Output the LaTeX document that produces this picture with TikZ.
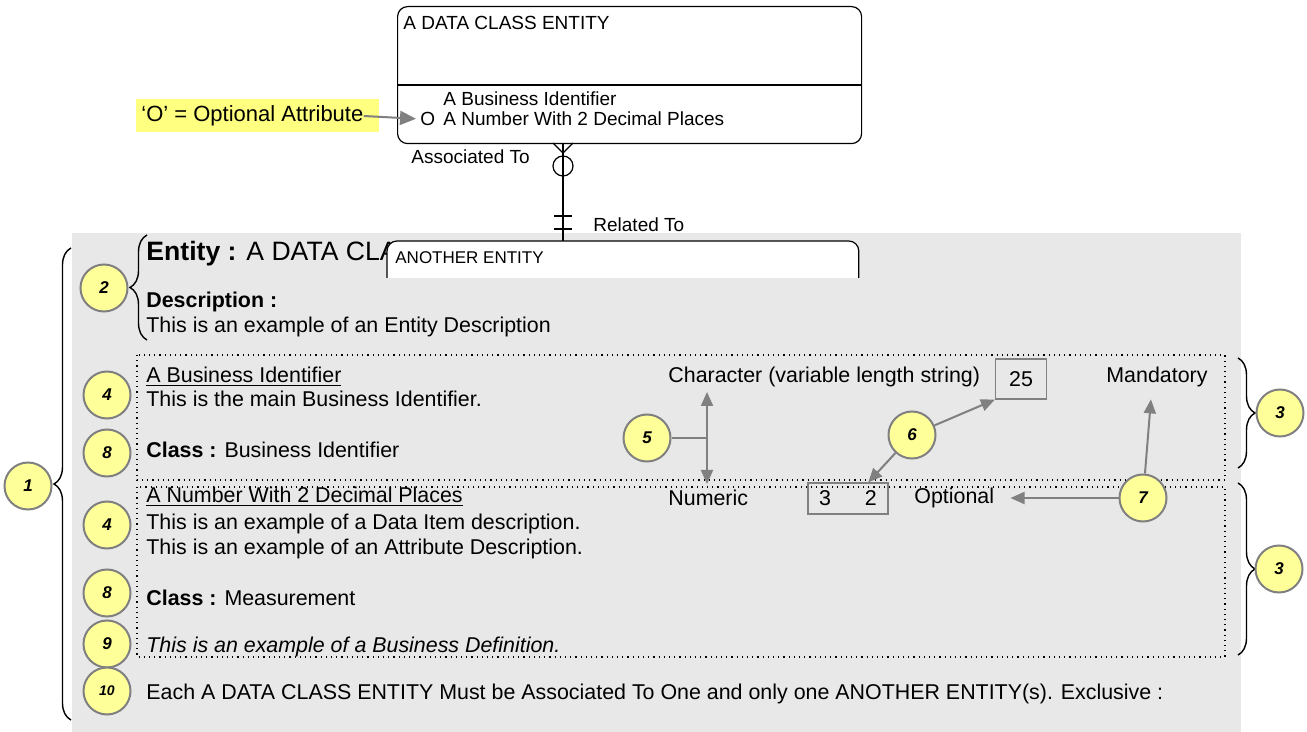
\documentclass[tikz,border=0pt]{standalone}
\usepackage{fontspec}
\setmainfont{Liberation Sans}
\usepackage{tikz}
\usetikzlibrary{positioning,arrows.meta,decorations.pathreplacing,calc}
\definecolor{panel}{RGB}{232,232,232}
\definecolor{callfill}{RGB}{255,255,153}
\definecolor{callline}{RGB}{128,128,128}
\definecolor{arrowgray}{RGB}{128,128,128}
\definecolor{marker}{RGB}{255,255,128}

\begin{document}
\begin{tikzpicture}[
    x=0.5pt,y=-0.5pt,
    txt/.style={anchor=west,inner sep=0pt,font=\fontsize{10.7}{12.8}\selectfont},
    erd/.style={anchor=west,inner sep=0pt,font=\fontsize{9.5}{11.4}\selectfont},
    badge/.style={circle,draw=callline,fill=callfill,line width=1pt,minimum size=23.5pt,inner sep=0pt,font=\fontsize{8.5}{9}\selectfont\bfseries\itshape},
    sizebox/.style={draw=callline,line width=0.6pt,inner sep=0pt,font=\fontsize{10.7}{12.8}\selectfont},
    pointer/.style={draw=arrowgray,line width=1pt,-{Triangle[length=7pt,width=6pt]}},
    brc/.style={decorate,decoration={brace,amplitude=8.5pt},line width=0.7pt},
    entity/.style={draw,rounded corners=5pt,line width=0.6pt,anchor=north west,inner sep=0pt}
  ]
    \useasboundingbox (0,0) rectangle (1307,732);

    % entity diagram
    \node[entity,minimum width=232pt,minimum height=68.5pt] (dce) at (397,6) {};
    \coordinate (divy) at (0,85);
    \draw[line width=0.6pt] (dce.west |- divy) -- (dce.east |- divy);
    \node[erd] (dcename) at (403,23) {A DATA CLASS ENTITY};
    \node[erd] (attr1) at (443,99) {A Business Identifier};
    \node[erd] (attr2) at (443,119) {A Number With 2 Decimal Places};
    \node[erd] (optO) at (420,119) {O};

    \fill[marker] (136,99) rectangle (379,132);
    \node[txt,font=\fontsize{11}{13}\selectfont] (optlbl) at (141,116) {`O' = Optional Attribute};
    \draw[pointer,-{Triangle[length=8pt,width=7pt]},shorten >=2pt] (optlbl.east) -- (optO.west);

    \fill[panel] (72,233) rectangle (1241,732);

    \coordinate (relA) at (563,143);
    \coordinate (relB) at (563,241);
    \draw[line width=0.6pt] (relA) -- (relB);
    \draw[line width=0.6pt] ($(relA)+(-10,0)$) -- ($(relA)+(0,10)$) -- ($(relA)+(10,0)$);
    \draw[line width=0.6pt] ($(relA)+(0,23)$) circle (5pt);
    \draw[line width=0.6pt] ($(relB)+(-9,-25)$) -- ++(18,0);
    \draw[line width=0.6pt] ($(relB)+(-9,-12)$) -- ++(18,0);
    \node[erd] (assoc) at (411,157) {Associated To};
    \node[erd] (related) at (593,225) {Related To};

    % entity report
    \node[txt,anchor=base west,font=\fontsize{13.3}{15}\selectfont] (enthead) at (146,261) {\textbf{Entity :} A DATA CLASS ENTITY};
    \node[anchor=north west,minimum width=235.5pt,minimum height=18pt,inner sep=0pt] (other) at (387,241) {};
    \draw[fill=white,line width=0.6pt,rounded corners=5pt] (other.south west) |- (other.north east) -- (other.south east);
    \node[erd,font=\fontsize{8.5}{10}\selectfont] (othername) at (395,258) {ANOTHER ENTITY};

    \node[txt] (desclbl) at (146,302) {\textbf{Description :}};
    \node[txt] (desc) at (146,327) {This is an example of an Entity Description};

    \draw[dotted,line width=0.6pt] (137,355) rectangle (1225,480);
    \draw[dotted,line width=0.6pt] (137,487) rectangle (1225,657);

    \node[txt] (bizname) at (146,377) {\underline{A Business Identifier}};
    \node[txt] (bizdesc) at (146,399) {This is the main Business Identifier.};
    \node[txt] (bizclass) at (146,450) {\textbf{Class :} Business Identifier};
    \node[txt] (chartype) at (668,377) {Character (variable length string)};
    \node[sizebox,minimum width=25.5pt,minimum height=20pt] (len25) at (1021,379) {25};
    \node[txt] (mand) at (1106,377) {Mandatory};

    \node[txt] (numname) at (146,497) {\underline{A Number With 2 Decimal Places}};
    \node[txt] (numdesc1) at (146,524) {This is an example of a Data Item description.};
    \node[txt] (numdesc2) at (146,549) {This is an example of an Attribute Description.};
    \node[txt] (numclass) at (146,598) {\textbf{Class :} Measurement};
    \node[txt] (numdef) at (146,647) {\itshape This is an example of a Business Definition.};
    \node[txt] (numtype) at (668,498) {Numeric};
    \node[sizebox,minimum width=40pt,minimum height=15.5pt] (prec) at (848,498.5) {3\hspace{17pt}2};
    \node[txt] (opt) at (914,498) {Optional};

    \node[txt] (rule) at (146,694) {Each A DATA CLASS ENTITY Must be Associated To One and only one ANOTHER ENTITY(s). Exclusive :};

    % braces
    \draw[brc] (71,720) -- (71,248);
    \draw[brc] (147,340) -- (147,235);
    \draw[brc] (1238,358) -- (1238,468);
    \draw[brc] (1238,483) -- (1238,655);

    % callouts
    \node[badge] (n1) at (28,486) {1};
    \node[badge] (n2) at (104,288) {2};
    \node[badge] (n4a) at (107,395) {4};
    \node[badge] (n8a) at (107,453) {8};
    \node[badge] (n4b) at (107,525) {4};
    \node[badge] (n8b) at (107,593) {8};
    \node[badge] (n9) at (107,644) {9};
    \node[badge,font=\fontsize{7}{8}\selectfont\bfseries\itshape] (n10) at (107,691) {10};
    \node[badge] (n3a) at (1280,413) {3};
    \node[badge] (n3b) at (1279,569) {3};
    \node[badge] (n5) at (647,438) {5};
    \node[badge] (n6) at (912,435) {6};

    \coordinate (fork) at (707,438);
    \coordinate (uptip) at (707,392);
    \coordinate (downtip) at (707,484);
    \draw[draw=arrowgray,line width=1pt] (n5) -- (fork);
    \draw[pointer,{Triangle[length=7pt,width=6pt]}-{Triangle[length=7pt,width=6pt]}] (uptip) -- (downtip);
    \draw[pointer] (n6) -- (len25.south west);
    \draw[pointer] (n6) -- ($(prec.north)!0.5!(prec.north east)$);

    \node[badge] (n7) at (1143,498) {7};
    \draw[pointer] (n7) -- ([xshift=-3pt,yshift=-6pt]mand.south);
    \draw[pointer,shorten >=8pt] (n7) -- (opt.east);
  \end{tikzpicture}
\end{document}
